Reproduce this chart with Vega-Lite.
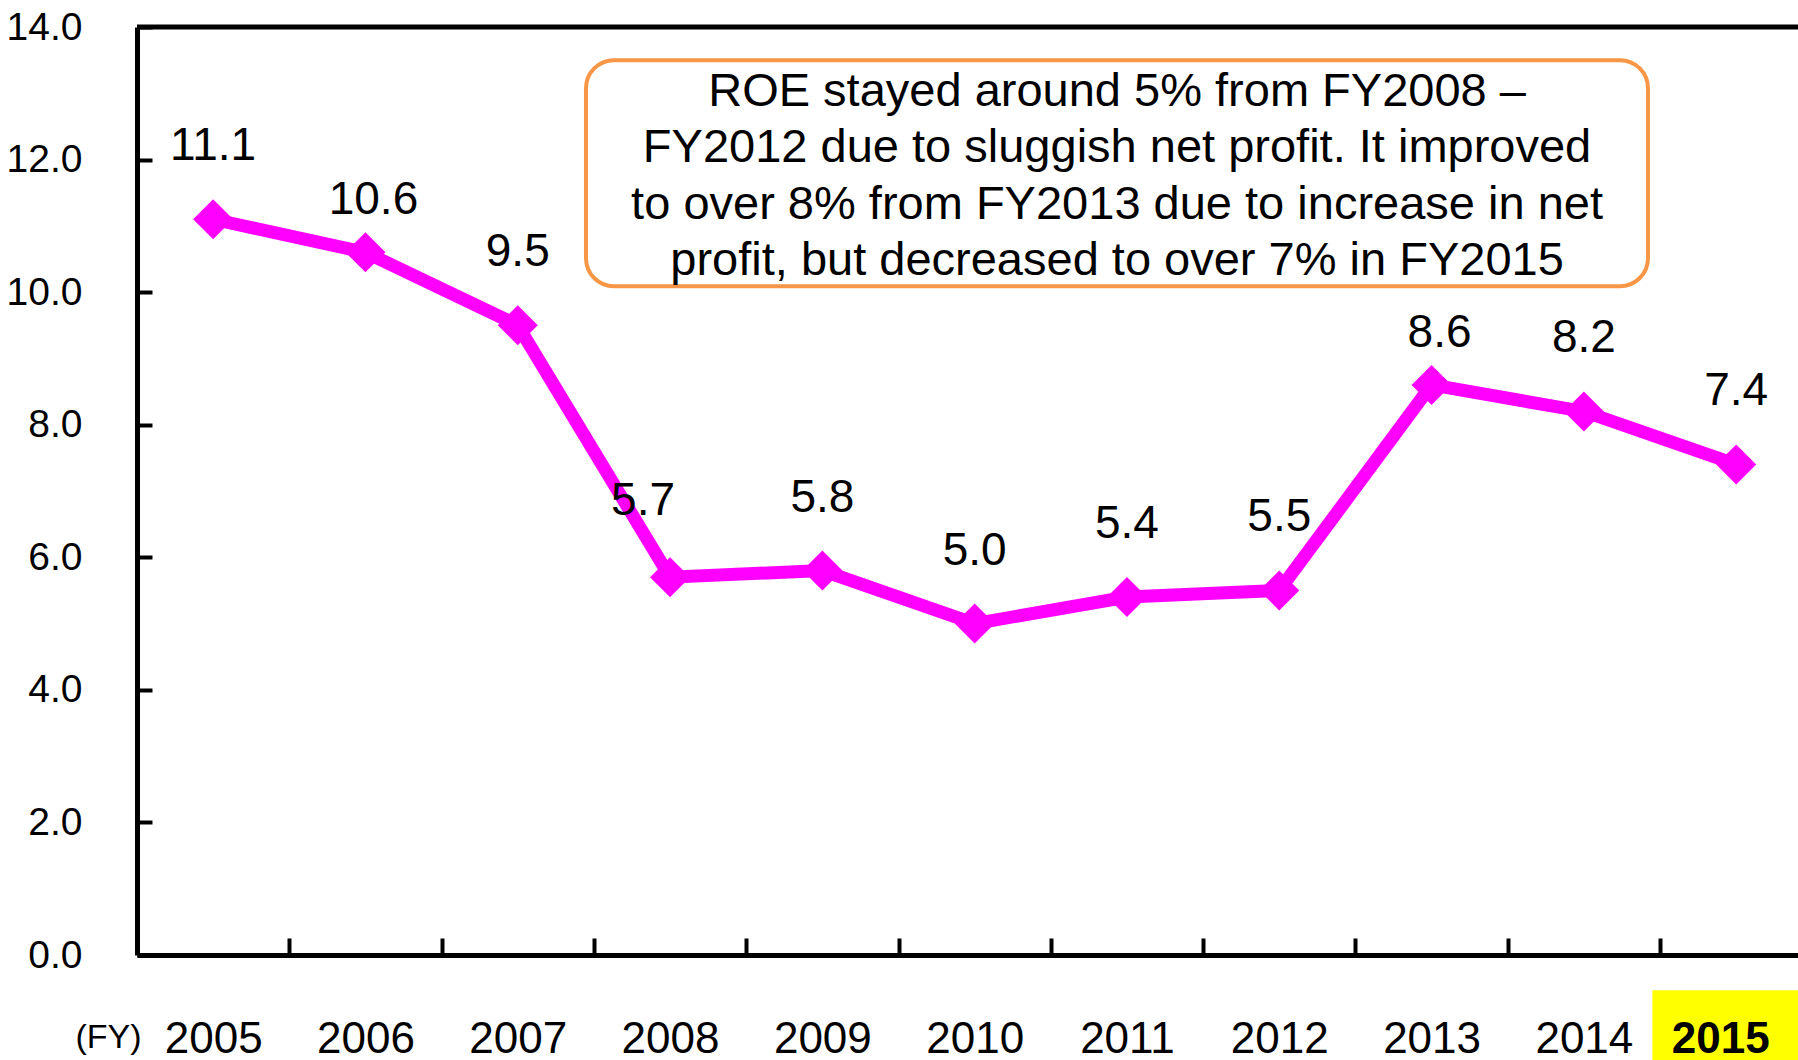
{
  "$schema": "https://vega.github.io/schema/vega-lite/v6.json",
  "autosize": "none",
  "width": 1661,
  "height": 928,
  "padding": {"left": 137, "top": 27, "right": 0, "bottom": 105},
  "background": "white",
  "config": {"view": {"stroke": null}, "font": "Liberation Sans"},
  "data": {"values": [
    {"year": 2005, "roe": 11.1},
    {"year": 2006, "roe": 10.6},
    {"year": 2007, "roe": 9.5},
    {"year": 2008, "roe": 5.7},
    {"year": 2009, "roe": 5.8},
    {"year": 2010, "roe": 5.0},
    {"year": 2011, "roe": 5.4},
    {"year": 2012, "roe": 5.5},
    {"year": 2013, "roe": 8.6},
    {"year": 2014, "roe": 8.2},
    {"year": 2015, "roe": 7.4}
  ]},
  "layer": [
    {
      "mark": {"type": "line", "color": "#FF00FF", "strokeWidth": 13},
      "encoding": {
        "x": {
          "field": "year", "type": "quantitative",
          "scale": {"domain": [2004.5, 2015.406], "nice": false, "zero": false},
          "axis": {
            "title": "(FY)", "titleFont": "Liberation Sans", "titleFontSize": 34, "titleFontWeight": "normal",
            "titleColor": "black", "titleAlign": "left", "titleAnchor": "start", "titleX": -62, "titleY": 92,
            "titleBaseline": "alphabetic", "titleAngle": 0,
            "values": [2005, 2005.5, 2006, 2006.5, 2007, 2007.5, 2008, 2008.5, 2009, 2009.5, 2010, 2010.5, 2011, 2011.5, 2012, 2012.5, 2013, 2013.5, 2014, 2014.5, 2015],
            "labelExpr": "datum.value % 1 == 0 ? '' + datum.value : ''",
            "labelOverlap": false, "labelFlush": false, "labelBound": false,
            "labelFontSize": 44, "labelColor": "black", "labelPadding": 114, "labelBaseline": "alphabetic",
            "labelFontWeight": {"condition": {"test": "datum.value == 2015", "value": "bold"}, "value": "normal"},
            "labelOffset": {"condition": {"test": "datum.value == 2015", "value": -16}, "value": 0},
            "tickSize": -17, "tickWidth": 4, "tickColor": "black",
            "tickOpacity": {"condition": {"test": "datum.value % 1 == 0", "value": 0}, "value": 1},
            "domainWidth": 5, "domainColor": "black", "grid": false, "zindex": 1
          }
        },
        "y": {
          "field": "roe", "type": "quantitative",
          "scale": {"domain": [0, 14], "nice": false, "zero": true},
          "axis": {
            "title": null,
            "values": [0, 2, 4, 6, 8, 10, 12, 14], "format": ".1f",
            "labelFontSize": 39, "labelColor": "black", "labelPadding": 70, "labelOverlap": false, "labelFlush": false,
            "tickSize": -15, "tickWidth": 4, "tickColor": "black",
            "domainWidth": 5, "domainColor": "black", "grid": false, "zindex": 1
          }
        }
      }
    },
    {
      "mark": {"type": "point", "shape": "diamond", "filled": true, "size": 1600, "color": "#FF00FF", "opacity": 1},
      "encoding": {
        "x": {"field": "year", "type": "quantitative"},
        "y": {"field": "roe", "type": "quantitative"}
      }
    },
    {
      "transform": [{"filter": "datum.year != 2006 && datum.year != 2013 && datum.year != 2008"}],
      "mark": {"type": "text", "fontSize": 46, "dy": -59, "baseline": "alphabetic", "align": "center", "color": "black"},
      "encoding": {
        "x": {"field": "year", "type": "quantitative"},
        "y": {"field": "roe", "type": "quantitative"},
        "text": {"field": "roe", "type": "quantitative", "format": ".1f"}
      }
    },
    {
      "transform": [{"filter": "datum.year == 2006 || datum.year == 2013"}],
      "mark": {"type": "text", "fontSize": 46, "dy": -38, "dx": 8, "baseline": "alphabetic", "align": "center", "color": "black"},
      "encoding": {
        "x": {"field": "year", "type": "quantitative"},
        "y": {"field": "roe", "type": "quantitative"},
        "text": {"field": "roe", "type": "quantitative", "format": ".1f"}
      }
    },
    {
      "transform": [{"filter": "datum.year == 2008"}],
      "mark": {"type": "text", "fontSize": 46, "dy": -62, "dx": -27, "baseline": "alphabetic", "align": "center", "color": "black"},
      "encoding": {
        "x": {"field": "year", "type": "quantitative"},
        "y": {"field": "roe", "type": "quantitative"},
        "text": {"field": "roe", "type": "quantitative", "format": ".1f"}
      }
    },
    {
      "data": {"values": [{"edge": "top"}]},
      "mark": {"type": "rule", "color": "black", "strokeWidth": 5},
      "encoding": {"y": {"datum": 14, "type": "quantitative"}}
    },
    {
      "data": {"values": [{"label": "2015"}]},
      "mark": {"type": "rect", "fill": "#FFFF00"},
      "encoding": {
        "x": {"datum": 2014.45, "type": "quantitative"},
        "x2": {"datum": 2015.41},
        "y": {"datum": -0.53, "type": "quantitative"},
        "y2": {"datum": -1.62}
      }
    },
    {
      "data": {"values": [{"note": "ROE stayed around 5% from FY2008 –\nFY2012 due to sluggish net profit. It improved\nto over 8% from FY2013 due to increase in net\nprofit, but decreased to over 7% in FY2015"}]},
      "layer": [
        {
          "mark": {"type": "rect", "fill": "white", "stroke": "#F79646", "strokeWidth": 4, "cornerRadius": 28},
          "encoding": {
            "x": {"datum": 2007.448, "type": "quantitative"},
            "x2": {"datum": 2014.421},
            "y": {"datum": 13.5, "type": "quantitative"},
            "y2": {"datum": 10.09}
          }
        },
        {
          "mark": {"type": "text", "fontSize": 47, "lineHeight": 56.5, "lineBreak": "\n", "align": "center", "baseline": "middle", "color": "black"},
          "encoding": {
            "x": {"datum": 2010.935, "type": "quantitative"},
            "y": {"datum": 13.02, "type": "quantitative"},
            "text": {"field": "note", "type": "nominal"}
          }
        }
      ]
    }
  ]
}
